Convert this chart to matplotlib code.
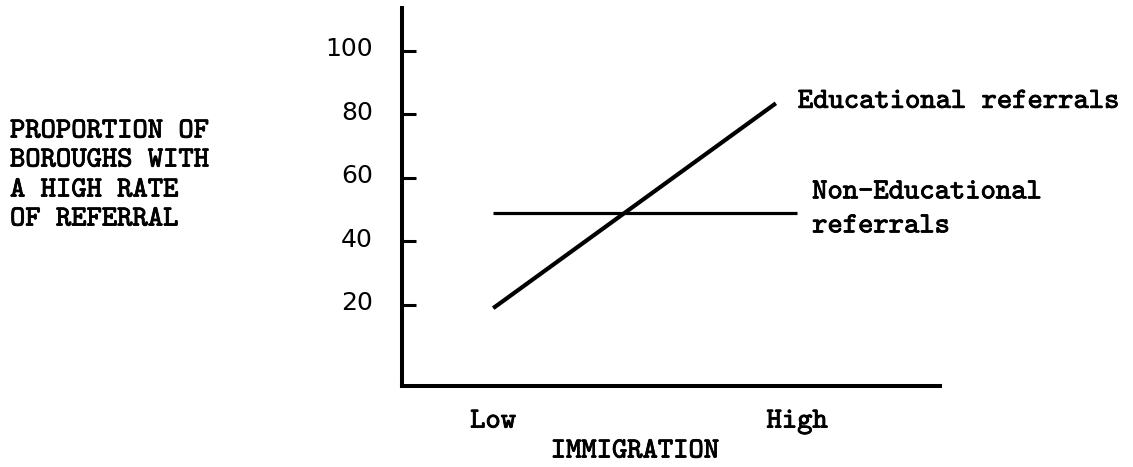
import matplotlib
matplotlib.use("Agg")
import matplotlib.pyplot as plt
import matplotlib.patheffects as pe
from matplotlib.transforms import ScaledTranslation

# Data
levels = ["Low", "High"]
level_pos = [0, 1]
edu_x = [0, 0.93]
edu_y = [19, 83.5]
nonedu_x = [0, 1]
nonedu_y = [49, 49]
yticks = [20, 40, 60, 80, 100]
ytick_labels = ["20", "40", "60", "80", "100"]
ylabel_lines = ["PROPORTION OF", "BOROUGHS WITH", "A HIGH RATE", "OF REFERRAL"]

W, H = 1133, 467
fig = plt.figure(figsize=(W / 100, H / 100), dpi=100)
ax = fig.add_axes([402 / W, 1 - 386 / H, (940 - 402) / W, (386 - 8) / H])

mono = "cmtt10"
fx = [pe.withStroke(linewidth=0.6, foreground="black")]
tsize = 21

ax.plot(edu_x, edu_y, color="black", lw=3.0, solid_capstyle="butt")
ax.plot(nonedu_x, nonedu_y, color="black", lw=2.3, solid_capstyle="butt")

ax.set_xlim(-0.30, 1.47)
ax.set_ylim(-5.5, 113.5)
for s in ["top", "right"]:
    ax.spines[s].set_visible(False)
for s in ["left", "bottom"]:
    ax.spines[s].set_linewidth(2.9)

ax.set_yticks(yticks)
ax.set_yticklabels(ytick_labels, fontfamily="DejaVu Sans", fontsize=18)
ax.tick_params(axis="y", direction="in", length=10, width=2.2, pad=21)
off = ScaledTranslation(0, 4 / 100, fig.dpi_scale_trans)
for lab in ax.get_yticklabels():
    lab.set_transform(lab.get_transform() + off)

ax.set_xticks(level_pos)
ax.set_xticklabels(levels, fontfamily=mono, fontsize=tsize)
for lab in ax.get_xticklabels():
    lab.set_path_effects(fx)
ax.tick_params(axis="x", length=0, pad=17)
xl = ax.set_xlabel("IMMIGRATION", fontfamily=mono, fontsize=tsize, va="center", ha="center")
xl.set_path_effects(fx)
ax.xaxis.set_label_coords((635 - 402) / 538, (386 - 452) / 378)

tf = dict(fontfamily=mono, fontsize=tsize, va="center", ha="left",
          textcoords="offset pixels", path_effects=fx)
ax.annotate("Educational referrals", xy=(edu_x[1], edu_y[1]), xytext=(22, 1), **tf)
ax.annotate("Non-Educational", xy=(nonedu_x[1], nonedu_y[1]), xytext=(15, 20), **tf)
ax.annotate("referrals", xy=(nonedu_x[1], nonedu_y[1]), xytext=(15, -14), **tf)

for i, (line, yc) in enumerate(zip(ylabel_lines, [132, 161, 191, 220])):
    fig.text(10 / W, 1 - yc / H, line, fontfamily=mono, fontsize=tsize,
             va="center", ha="left", path_effects=fx)

fig.savefig("out.png", dpi=100)
